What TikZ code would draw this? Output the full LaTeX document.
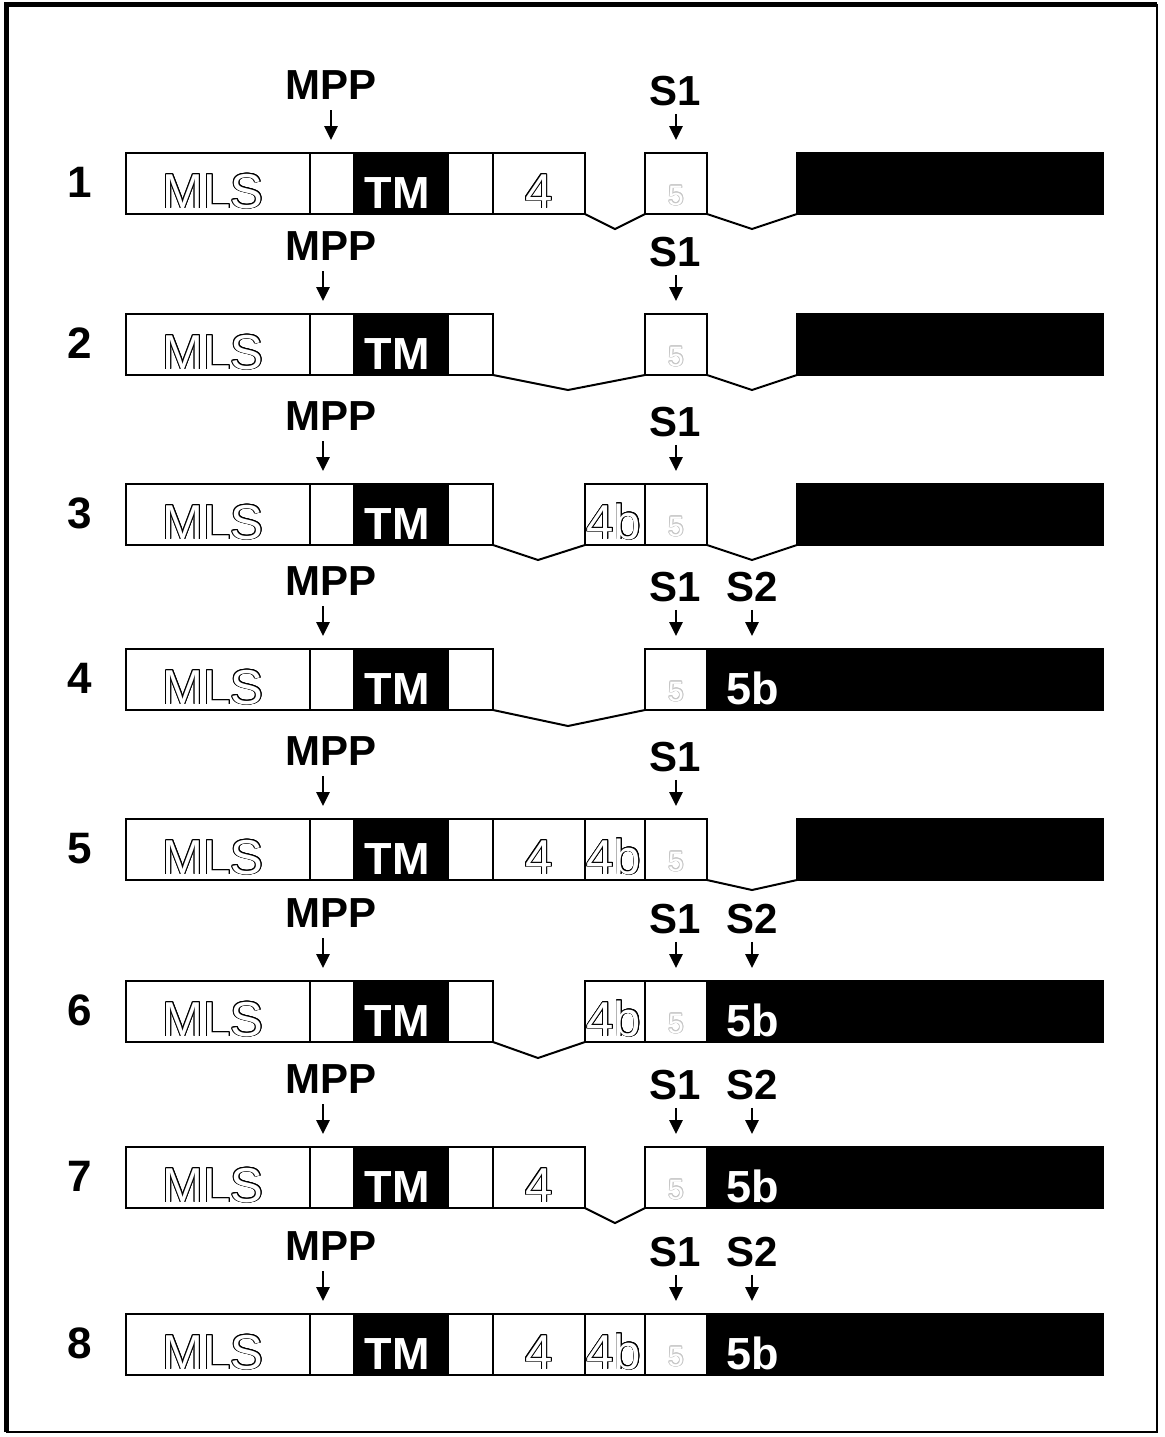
\documentclass[tikz,border=0pt]{standalone}
\usepackage{fontspec}
\setsansfont{Liberation Sans}
\usepackage{contour}
\contourlength{0.4pt}
\usetikzlibrary{arrows.meta}

\newcommand{\outl}[2][black]{\contour{#1}{\textcolor{white}{#2}}}
\newcommand{\seg}[5]{\node[#5, minimum width={(#3-#2)*0.5pt}] (#1) at (#2,#4) {};}

\begin{document}
\begin{tikzpicture}[x=0.5pt,y=-0.5pt,
  box/.style={draw, line width=1pt, fill=white, anchor=north west, minimum height=30.5pt, inner sep=0pt, outer sep=0pt},
  blk/.style={box, fill=black},
  lbl/.style={font=\sffamily\bfseries\fontsize{21}{24}\selectfont, anchor=base, inner sep=0pt},
  num/.style={lbl, font=\sffamily\bfseries\fontsize{22}{24}\selectfont},
  wtxt/.style={lbl, text=white, font=\sffamily\bfseries\fontsize{22.5}{24}\selectfont},
  otxt/.style={anchor=base, inner sep=0pt, font=\sffamily\fontsize{24.5}{26}\selectfont},
  ftxt/.style={anchor=base, inner sep=0pt, font=\sffamily\fontsize{14}{16}\selectfont},
  arr/.style={line width=1.3pt, -{Triangle[width=6.5pt,length=7pt]}},
  vline/.style={line width=1pt}]
\useasboundingbox (0,0) rectangle (1164,1437);
% frame
\draw[line width=1.2pt] (7,5) rectangle (1157,1432);
\draw[line width=2.5pt] (6.5,1432) -- (6.5,4.5) -- (1157,4.5);

% parts every row has
\foreach \r/\t/\m in {1/153/331, 2/314/323, 3/484/323, 4/649/323, 5/819/323, 6/981/323, 7/1147/323, 8/1314/323} {
  \seg{mls\r}{126}{310}{\t}{box}
  \seg{ga\r}{310}{354}{\t}{box}
  \seg{tm\r}{354}{448}{\t}{blk}
  \seg{gb\r}{448}{493}{\t}{box}
  \seg{s\r}{645}{707}{\t}{box}
  \path
  (80,\t+44) node[num] (n\r) {\r}
  (213,\t+55) node[otxt] (tmls\r) {\outl{MLS}}
  (397,\t+55) node[wtxt] (ttm\r) {TM}
  (676,\t+52) node[ftxt] (tf\r) {\outl[black!22]{5}}
  (331,\t-54) node[lbl] (mpp\r) {MPP}
  (675,\t-48) node[lbl] (sa\r) {S1};
  \coordinate (pm\r) at (\m,\t-13);
  \coordinate (ps\r) at (676,\t-13);
  \draw[arr, shorten <=5.5pt] (mpp\r.south -| pm\r) -- (pm\r);
  \draw[arr, shorten <=4pt] (sa\r.south -| ps\r) -- (ps\r);
}
% tail in black, after a gap
\foreach \r/\t in {1/153, 2/314, 3/484, 5/819} {
  \seg{c\r}{797}{1103}{\t}{blk}
}
% tail in black, 5b, second site
\foreach \r/\t in {4/649, 6/981, 7/1147, 8/1314} {
  \seg{c\r}{707}{1103}{\t}{blk}
  \path
  (753,\t+55) node[wtxt] (t5b\r) {5b}
  (752,\t-48) node[lbl] (sb\r) {S2};
  \coordinate (pt\r) at (752,\t-13);
  \draw[arr, shorten <=4pt] (sb\r.south -| pt\r) -- (pt\r);
}
% exon 4
\foreach \r/\t in {1/153, 5/819, 7/1147, 8/1314} {
  \seg{f\r}{493}{585}{\t}{box}
  \path (539,\t+55) node[otxt] (t4\r) {\outl{4}};
}
% exon 4b
\foreach \r/\t in {3/484, 5/819, 6/981, 8/1314} {
  \seg{fb\r}{585}{645}{\t}{box}
  \path (614,\t+55) node[otxt] (t4b\r) {\outl{4b}};
}

% skipped parts
\coordinate (v1a) at (615,229);
\coordinate (v1b) at (752,229);
\draw[vline] (f1.south east) -- (v1a) -- (s1.south west);
\draw[vline] (s1.south east) -- (v1b) -- (c1.south west);
\coordinate (v2a) at (568,390);
\coordinate (v2b) at (752,390);
\draw[vline] (gb2.south east) -- (v2a) -- (s2.south west);
\draw[vline] (s2.south east) -- (v2b) -- (c2.south west);
\coordinate (v3a) at (538,560);
\coordinate (v3b) at (752,560);
\draw[vline] (gb3.south east) -- (v3a) -- (fb3.south west);
\draw[vline] (s3.south east) -- (v3b) -- (c3.south west);
\coordinate (v4a) at (568,726);
\draw[vline] (gb4.south east) -- (v4a) -- (s4.south west);
\coordinate (v5b) at (752,890);
\draw[vline] (s5.south east) -- (v5b) -- (c5.south west);
\coordinate (v6a) at (538,1058);
\draw[vline] (gb6.south east) -- (v6a) -- (fb6.south west);
\coordinate (v7a) at (615,1223);
\draw[vline] (f7.south east) -- (v7a) -- (s7.south west);
\end{tikzpicture}
\end{document}
